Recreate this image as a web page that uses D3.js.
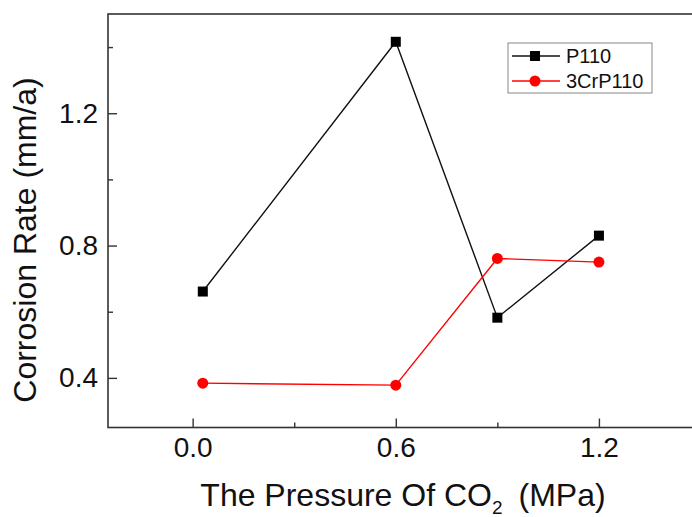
<!DOCTYPE html>
<html>
<head>
<meta charset="utf-8">
<script src="https://cdn.jsdelivr.net/npm/d3@7"></script>
<style>
  html, body { margin: 0; padding: 0; background: #fff; }
  svg { display: block; font-family: "Liberation Sans", Arial, sans-serif; }
</style>
</head>
<body>
<svg id="chart" width="692" height="517"></svg>
<script>
const pressure = [0.03, 0.6, 0.9, 1.2];
const p110 = [0.661, 1.416, 0.582, 0.83];
const cr3p110 = [0.384, 0.378, 0.761, 0.75];
const seriesNames = ["P110", "3CrP110"];
const xTicks = [0.0, 0.6, 1.2];
const xMinorTicks = [0.3, 0.9];
const yTicks = [0.4, 0.8, 1.2];
const yMinorTicks = [0.6, 1.0, 1.4];

(function () {
const svg = d3.select("#chart");
const mLeft = 108, mRight = 700.5, mTop = 14, mBottom = 427.5;

const x = d3.scaleLinear().domain([-0.25, 1.5]).range([mLeft, mRight]);
const y = d3.scaleLinear().domain([0.25, 1.5]).range([mBottom, mTop]);

const axisColor = "#333";

// frame
svg.append("rect")
  .attr("x", mLeft).attr("y", mTop)
  .attr("width", mRight - mLeft).attr("height", mBottom - mTop)
  .attr("fill", "none").attr("stroke", axisColor).attr("stroke-width", 1.6);

// x axis
const gx = svg.append("g").attr("transform", `translate(0,${mBottom})`);
gx.call(d3.axisBottom(x).tickValues(xTicks).tickSizeInner(-9).tickSizeOuter(0).tickPadding(10).tickFormat(d3.format(".1f")));
gx.append("g").call(d3.axisBottom(x).tickValues(xMinorTicks).tickSizeInner(-5).tickSizeOuter(0).tickFormat(""));
// y axis
const gy = svg.append("g").attr("transform", `translate(${mLeft},0)`);
gy.call(d3.axisLeft(y).tickValues(yTicks).tickSizeInner(-9).tickSizeOuter(0).tickPadding(10).tickFormat(d3.format(".1f")));
gy.append("g").call(d3.axisLeft(y).tickValues(yMinorTicks).tickSizeInner(-5).tickSizeOuter(0).tickFormat(""));

svg.selectAll(".domain").remove();
svg.selectAll(".tick line").attr("stroke", axisColor).attr("stroke-width", 1.4);
svg.selectAll(".tick text").attr("font-size", 28).attr("fill", "#111")
  .attr("font-family", '"Liberation Sans", Arial, sans-serif');

// axis titles
svg.append("text")
  .attr("x", 403).attr("y", 506)
  .attr("text-anchor", "middle")
  .attr("font-size", 32).attr("fill", "#111")
  .html('The Pressure Of CO<tspan font-size="19" dy="8">2</tspan><tspan dy="-8" dx="16">(MPa)</tspan>');

svg.append("text")
  .attr("transform", "translate(36,240) rotate(-90)")
  .attr("text-anchor", "middle")
  .attr("font-size", 32).attr("fill", "#111")
  .text("Corrosion Rate (mm/a)");

// lines
const data1 = pressure.map((p, i) => ({x: p, y: p110[i]}));
const data2 = pressure.map((p, i) => ({x: p, y: cr3p110[i]}));
const line = d3.line().x(d => x(d.x)).y(d => y(d.y));

svg.append("path").datum(data1).attr("d", line)
  .attr("fill", "none").attr("stroke", "#111").attr("stroke-width", 1.4);
svg.append("path").datum(data2).attr("d", line)
  .attr("fill", "none").attr("stroke", "#f00").attr("stroke-width", 1.4);

const sq = 10;
svg.selectAll(".sq").data(data1).enter().append("rect")
  .attr("x", d => x(d.x) - sq / 2).attr("y", d => y(d.y) - sq / 2)
  .attr("width", sq).attr("height", sq).attr("fill", "#000");
svg.selectAll(".ci").data(data2).enter().append("circle")
  .attr("cx", d => x(d.x)).attr("cy", d => y(d.y)).attr("r", 5.5).attr("fill", "#f00");

// legend
const lg = svg.append("g");
lg.append("rect").attr("x", 508).attr("y", 43).attr("width", 144).attr("height", 50)
  .attr("fill", "#fff").attr("stroke", "#888").attr("stroke-width", 1);
const rows = [{name: seriesNames[0], color: "#111", shape: "sq", yy: 56},
              {name: seriesNames[1], color: "#f00", shape: "ci", yy: 81}];
rows.forEach(r => {
  lg.append("line").attr("x1", 512).attr("x2", 560).attr("y1", r.yy).attr("y2", r.yy)
    .attr("stroke", r.color).attr("stroke-width", 1.4);
  if (r.shape === "sq") {
    lg.append("rect").attr("x", 535 - 5).attr("y", r.yy - 5).attr("width", 10).attr("height", 10).attr("fill", "#000");
  } else {
    lg.append("circle").attr("cx", 535).attr("cy", r.yy).attr("r", 5.5).attr("fill", "#f00");
  }
  lg.append("text").attr("x", 566).attr("y", r.yy + 7).attr("font-size", 20).attr("fill", "#111").text(r.name);
});
})();
</script>
</body>
</html>
